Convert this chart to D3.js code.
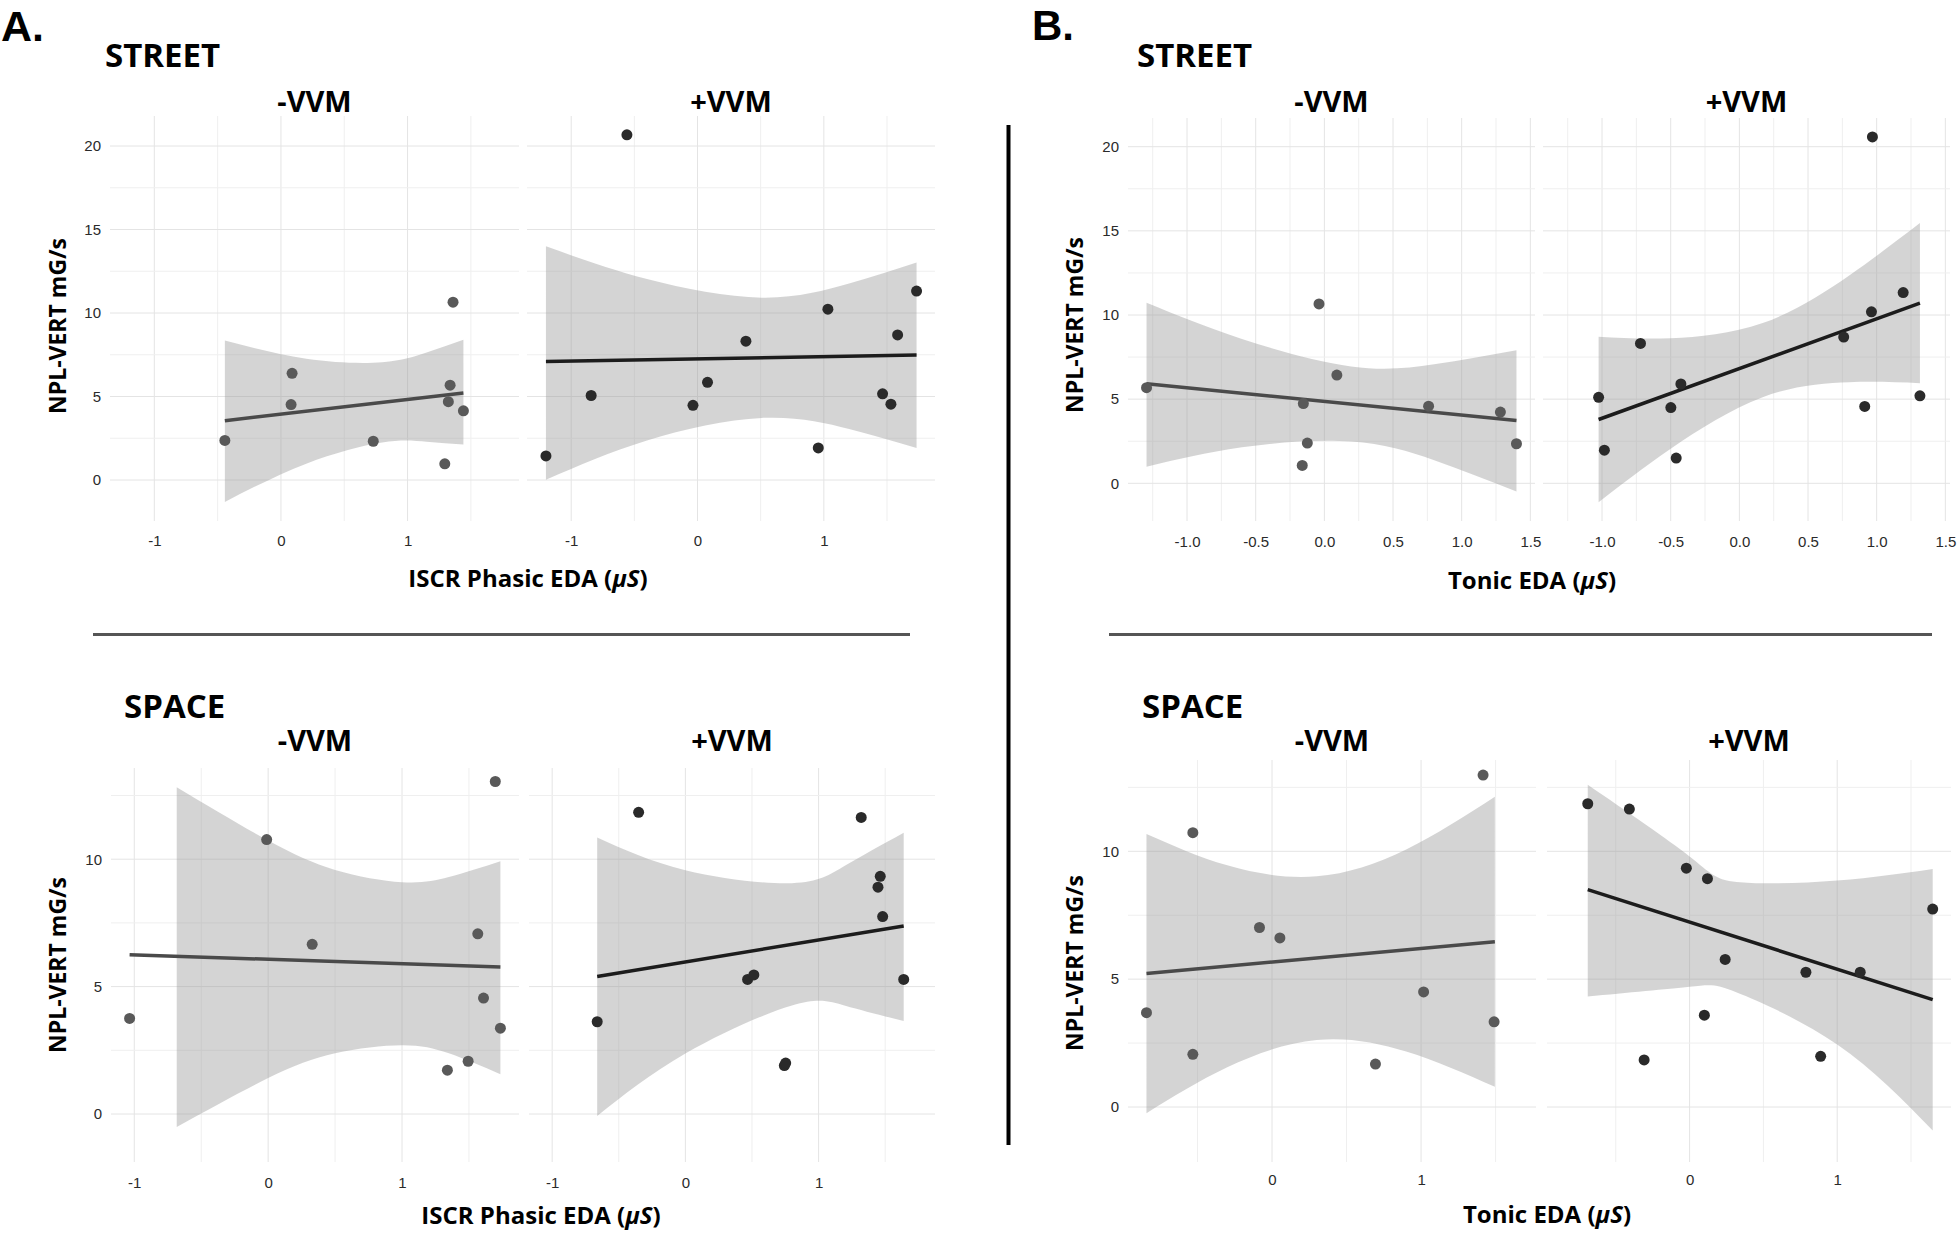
<!DOCTYPE html>
<html>
<head>
<meta charset="utf-8">
<script src="https://cdn.jsdelivr.net/npm/d3@7"></script>
<style>
  body { margin: 0; background: #fff; }
  .tick text { font-family: "Liberation Sans", Arial, sans-serif; font-size: 15px; fill: #2a2a2a; }
  .ttl { font-family: "Open Sans", sans-serif; font-weight: 700; fill: #000; }
  .lead { font-family: "Liberation Sans", Arial, sans-serif; font-weight: 700; fill: #000; }
</style>
</head>
<body>
<script>
/*--------------------------------------------------------------------------
+++ Data (x = EDA, y = NPL-VERT mG/s)
--------------------------------------------------------------------------*/
// A. street, -VVM
var aStreetNegX = [-0.443, 0.088, 0.08, 0.729, 1.359, 1.336, 1.322, 1.441, 1.294];
var aStreetNegY = [2.37, 6.39, 4.52, 2.32, 10.65, 5.68, 4.69, 4.14, 0.97];
var aStreetNegFitX = [-0.443, 1.441];
var aStreetNegFitY = [3.55, 5.21];
var aStreetNegBandX = [-0.443, 0.2, 0.8, 1.15, 1.441];
var aStreetNegBandLo = [-1.31, 0.98, 2.25, 2.29, 2.13];
var aStreetNegBandHi = [8.35, 7.26, 7.05, 7.63, 8.4];

// A. street, +VVM
var aStreetPosX = [-0.559, -1.2, -0.842, -0.036, 0.079, 0.383, 0.956, 1.032, 1.465, 1.531, 1.584, 1.734];
var aStreetPosY = [20.67, 1.44, 5.06, 4.47, 5.85, 8.31, 1.92, 10.23, 5.16, 4.54, 8.69, 11.31];
var aStreetPosFitX = [-1.2, 1.734];
var aStreetPosFitY = [7.1, 7.48];
var aStreetPosBandX = [-1.2, -0.4, 0.51, 1.2, 1.734];
var aStreetPosBandLo = [0.02, 2.37, 3.72, 3.06, 1.92];
var aStreetPosBandHi = [13.99, 12.03, 10.92, 11.76, 13.02];

// B. street, -VVM
var bStreetNegX = [-1.295, -0.039, 0.091, -0.153, -0.124, -0.161, 0.759, 1.282, 1.399];
var bStreetNegY = [5.68, 10.66, 6.43, 4.74, 2.39, 1.06, 4.58, 4.23, 2.35];
var bStreetNegFitX = [-1.295, 1.399];
var bStreetNegFitY = [5.92, 3.73];
var bStreetNegBandX = [-1.295, -0.6, 0.195, 0.8, 1.399];
var bStreetNegBandLo = [0.99, 2.14, 2.48, 1.37, -0.49];
var bStreetNegBandHi = [10.73, 8.58, 6.94, 7.07, 7.91];

// B. street, +VVM
var bStreetPosX = [0.969, -0.72, -1.025, -0.983, -0.426, -0.499, -0.46, 0.76, 0.962, 1.193, 0.913, 1.315];
var bStreetPosY = [20.58, 8.31, 5.11, 1.97, 5.9, 4.5, 1.5, 8.69, 10.19, 11.33, 4.57, 5.2];
var bStreetPosFitX = [-1.025, 1.315];
var bStreetPosFitY = [3.79, 10.7];
var bStreetPosBandX = [-1.025, -0.5, 0.17, 0.8, 1.315];
var bStreetPosBandLo = [-1.12, 2.06, 5.12, 6.01, 5.95];
var bStreetPosBandHi = [8.71, 8.62, 9.52, 12.35, 15.46];

// A. space, -VVM
var aSpaceNegX = [-1.035, -0.011, 0.329, 1.566, 1.609, 1.735, 1.494, 1.339, 1.697];
var aSpaceNegY = [3.75, 10.77, 6.66, 7.07, 4.55, 3.37, 2.07, 1.72, 13.05];
var aSpaceNegFitX = [-1.035, 1.735];
var aSpaceNegFitY = [6.25, 5.77];
var aSpaceNegBandX = [-0.683, 0, 0.5, 1.0, 1.35, 1.735];
var aSpaceNegBandLo = [-0.51, 1.41, 2.38, 2.7, 2.38, 1.56];
var aSpaceNegBandHi = [12.82, 10.73, 9.58, 9.1, 9.3, 9.92];

// A. space, +VVM
var aSpacePosX = [-0.351, -0.662, 0.467, 0.514, 0.743, 0.753, 1.32, 1.463, 1.446, 1.481, 1.639];
var aSpacePosY = [11.84, 3.62, 5.28, 5.46, 1.9, 2.0, 11.64, 9.33, 8.9, 7.75, 5.28];
var aSpacePosFitX = [-0.662, 1.639];
var aSpacePosFitY = [5.4, 7.38];
var aSpacePosBandX = [-0.662, 0, 0.8, 1.2, 1.639];
var aSpacePosBandLo = [-0.08, 2.37, 4.26, 4.25, 3.65];
var aSpacePosBandHi = [10.85, 9.57, 9.06, 9.75, 11.04];

// B. space, -VVM
var bSpaceNegX = [-0.842, -0.531, -0.531, -0.084, 0.053, 0.694, 1.017, 1.49, 1.416];
var bSpaceNegY = [3.69, 10.73, 2.06, 7.02, 6.61, 1.68, 4.5, 3.33, 12.98];
var bSpaceNegFitX = [-0.842, 1.495];
var bSpaceNegFitY = [5.22, 6.46];
var bSpaceNegBandX = [-0.842, -0.3, 0.3, 0.9, 1.495];
var bSpaceNegBandLo = [-0.24, 1.55, 2.62, 2.17, 0.79];
var bSpaceNegBandHi = [10.68, 9.45, 9.02, 10.07, 12.13];

// B. space, +VVM
var bSpacePosX = [-0.69, -0.408, -0.022, 0.121, 1.647, 0.241, 0.788, 1.156, 0.1, -0.308, 0.888];
var bSpacePosY = [11.86, 11.65, 9.34, 8.93, 7.74, 5.77, 5.27, 5.27, 3.59, 1.84, 1.98];
var bSpacePosFitX = [-0.69, 1.647];
var bSpacePosFitY = [8.5, 4.2];
var bSpacePosBandX = [-0.69, 0, 0.32, 1.0, 1.647];
var bSpacePosBandLo = [4.32, 4.7, 4.48, 2.44, -0.92];
var bSpacePosBandHi = [12.6, 9.8, 8.8, 8.86, 9.31];

// tick labels
var xTicksPhasic = [-1, 0, 1];
var xTicksTonicStreet = [-1.0, -0.5, 0.0, 0.5, 1.0, 1.5];
var xTicksTonicSpace = [0, 1];
var yTicksStreet = [0, 5, 10, 15, 20];
var yTicksSpace = [0, 5, 10];
var facetLabels = ["-VVM", "+VVM"];

/*--------------------------------------------------------------------------
+++ Layout
--------------------------------------------------------------------------*/
var svg = d3.select("body").append("svg")
    .attr("width", 1960)
    .attr("height", 1233);

// y0 = pixel of value 0, unit = pixels per unit
var rowAStreet = { y0: 480, unit: 16.7, top: 116, bottom: 521, ticks: yTicksStreet, tickY: 541, facetY: 112 };
var rowBStreet = { y0: 483.3, unit: 16.83, top: 118, bottom: 521, ticks: yTicksStreet, tickY: 542, facetY: 112 };
var rowASpace = { y0: 1114, unit: 25.48, top: 768, bottom: 1162, ticks: yTicksSpace, tickY: 1183, facetY: 751 };
var rowBSpace = { y0: 1107, unit: 25.57, top: 760, bottom: 1162, ticks: yTicksSpace, tickY: 1180, facetY: 751 };

var fmtInt = d => String(d);
var fmtOne = d => d.toFixed(1);

function zip2(a, b) { return a.map((v, i) => ({ x: v, y: b[i] })); }
function zip3(a, lo, hi) { return a.map((v, i) => ({ x: v, lo: lo[i], hi: hi[i] })); }

var panels = [
    { row: rowAStreet, left: 110, right: 519, xDomain: [-1.35, 1.88], xTicks: xTicksPhasic, fmt: fmtInt, pos: false, yAxis: true,
      pts: zip2(aStreetNegX, aStreetNegY), fit: zip2(aStreetNegFitX, aStreetNegFitY), band: zip3(aStreetNegBandX, aStreetNegBandLo, aStreetNegBandHi) },
    { row: rowAStreet, left: 527, right: 935, xDomain: [-1.35, 1.88], xTicks: xTicksPhasic, fmt: fmtInt, pos: true, yAxis: false,
      pts: zip2(aStreetPosX, aStreetPosY), fit: zip2(aStreetPosFitX, aStreetPosFitY), band: zip3(aStreetPosBandX, aStreetPosBandLo, aStreetPosBandHi) },
    { row: rowBStreet, left: 1128, right: 1535, xDomain: [-1.43, 1.534], xTicks: xTicksTonicStreet, fmt: fmtOne, pos: false, yAxis: true,
      pts: zip2(bStreetNegX, bStreetNegY), fit: zip2(bStreetNegFitX, bStreetNegFitY), band: zip3(bStreetNegBandX, bStreetNegBandLo, bStreetNegBandHi) },
    { row: rowBStreet, left: 1543, right: 1950, xDomain: [-1.43, 1.534], xTicks: xTicksTonicStreet, fmt: fmtOne, pos: true, yAxis: false,
      pts: zip2(bStreetPosX, bStreetPosY), fit: zip2(bStreetPosFitX, bStreetPosFitY), band: zip3(bStreetPosBandX, bStreetPosBandLo, bStreetPosBandHi) },
    { row: rowASpace, left: 111, right: 519, xDomain: [-1.174, 1.874], xTicks: xTicksPhasic, fmt: fmtInt, pos: false, yAxis: true,
      pts: zip2(aSpaceNegX, aSpaceNegY), fit: zip2(aSpaceNegFitX, aSpaceNegFitY), band: zip3(aSpaceNegBandX, aSpaceNegBandLo, aSpaceNegBandHi) },
    { row: rowASpace, left: 529, right: 935, xDomain: [-1.174, 1.874], xTicks: xTicksPhasic, fmt: fmtInt, pos: true, yAxis: false,
      pts: zip2(aSpacePosX, aSpacePosY), fit: zip2(aSpacePosFitX, aSpacePosFitY), band: zip3(aSpacePosBandX, aSpacePosBandLo, aSpacePosBandHi) },
    { row: rowBSpace, left: 1128, right: 1536, xDomain: [-0.966, 1.771], xTicks: xTicksTonicSpace, fmt: fmtInt, pos: false, yAxis: true,
      pts: zip2(bSpaceNegX, bSpaceNegY), fit: zip2(bSpaceNegFitX, bSpaceNegFitY), band: zip3(bSpaceNegBandX, bSpaceNegBandLo, bSpaceNegBandHi) },
    { row: rowBSpace, left: 1547, right: 1951, xDomain: [-0.966, 1.771], xTicks: xTicksTonicSpace, fmt: fmtInt, pos: true, yAxis: false,
      pts: zip2(bSpacePosX, bSpacePosY), fit: zip2(bSpacePosFitX, bSpacePosFitY), band: zip3(bSpacePosBandX, bSpacePosBandLo, bSpacePosBandHi) }
];

// minor breaks halfway between the major ones, one extra on each side
function minorsOf(ticks, domain) {
    var step = ticks[1] - ticks[0];
    var out = [ticks[0] - step / 2].concat(ticks.map(t => t + step / 2));
    return out.filter(v => v > domain[0] && v < domain[1]);
}

/*--------------------------------------------------------------------------
+++ Draw the panels
--------------------------------------------------------------------------*/
panels.forEach(function (p) {
    var row = p.row;
    var x = d3.scaleLinear().domain(p.xDomain).range([p.left, p.right]);
    var y = d3.scaleLinear()
        .domain([(row.y0 - row.bottom) / row.unit, (row.y0 - row.top) / row.unit])
        .range([row.bottom, row.top]);

    var g = svg.append("g");

    // grid
    var grid = g.append("g").attr("stroke-width", 1);
    minorsOf(p.xTicks, x.domain()).concat(p.xTicks).forEach(function (v) {
        grid.append("line")
            .attr("x1", x(v)).attr("x2", x(v))
            .attr("y1", row.top).attr("y2", row.bottom)
            .attr("stroke", p.xTicks.indexOf(v) >= 0 ? "#e4e4e4" : "#efefef");
    });
    minorsOf(row.ticks, y.domain()).concat(row.ticks).forEach(function (v) {
        grid.append("line")
            .attr("x1", p.left).attr("x2", p.right)
            .attr("y1", y(v)).attr("y2", y(v))
            .attr("stroke", row.ticks.indexOf(v) >= 0 ? "#e4e4e4" : "#efefef");
    });

    // confidence band
    var area = d3.area()
        .x(d => x(d.x))
        .y0(d => y(d.lo))
        .y1(d => y(d.hi))
        .curve(d3.curveNatural);

    g.append("path")
        .datum(p.band)
        .attr("d", area)
        .attr("fill", "#999999")
        .attr("fill-opacity", 0.42);

    // fitted line
    var line = d3.line().x(d => x(d.x)).y(d => y(d.y));
    g.append("path")
        .datum(p.fit)
        .attr("d", line)
        .attr("fill", "none")
        .attr("stroke", p.pos ? "#1c1c1c" : "#4a4a4a")
        .attr("stroke-width", 3.5);

    // points
    g.selectAll("circle")
        .data(p.pts)
        .enter()
        .append("circle")
        .attr("cx", d => x(d.x))
        .attr("cy", d => y(d.y))
        .attr("r", 5.5)
        .attr("fill", p.pos ? "#2a2a2a" : "#595959");

    // axes
    var xAxis = g.append("g")
        .attr("transform", `translate(0, ${row.tickY})`)
        .call(d3.axisBottom(x).tickValues(p.xTicks).tickFormat(p.fmt).tickSize(0).tickPadding(0));
    xAxis.select(".domain").remove();
    xAxis.selectAll("text").attr("y", 0).attr("dy", "0.35em");

    if (p.yAxis) {
        var yAxis = g.append("g")
            .attr("transform", `translate(${p.left - 9}, 0)`)
            .call(d3.axisLeft(y).tickValues(row.ticks).tickFormat(fmtInt).tickSize(0).tickPadding(0));
        yAxis.select(".domain").remove();
    }

    // facet label
    g.append("text")
        .attr("class", "ttl")
        .attr("x", (p.left + p.right) / 2)
        .attr("y", row.facetY)
        .attr("text-anchor", "middle")
        .style("font-size", "29px")
        .text(p.pos ? facetLabels[1] : facetLabels[0]);
});

/*--------------------------------------------------------------------------
+++ Titles, axis labels and dividers
--------------------------------------------------------------------------*/
function bigText(txt, x, y, size, cls) {
    svg.append("text")
        .attr("class", cls || "ttl")
        .attr("x", x).attr("y", y)
        .style("font-size", size + "px")
        .text(txt);
}
bigText("A.", 1, 41, 43, "lead");
bigText("B.", 1032, 40, 42, "lead");
bigText("STREET", 105, 67, 33);
bigText("STREET", 1137, 67, 33);
bigText("SPACE", 124, 718, 33);
bigText("SPACE", 1142, 718, 33);

function yTitle(x, y) {
    svg.append("text")
        .attr("class", "ttl")
        .attr("transform", `translate(${x}, ${y}) rotate(-90)`)
        .attr("text-anchor", "middle")
        .attr("dy", "0.35em")
        .style("font-size", "23px")
        .text("NPL-VERT mG/s");
}
yTitle(58, 326);
yTitle(58, 965);
yTitle(1075, 325);
yTitle(1075, 963);

function xTitle(label, x, y) {
    var t = svg.append("text")
        .attr("class", "ttl")
        .attr("x", x).attr("y", y)
        .attr("text-anchor", "middle")
        .attr("dy", "0.35em")
        .style("font-size", "24px");
    t.append("tspan").text(label + " (");
    t.append("tspan").style("font-style", "italic").text("\u03bc");
    t.append("tspan").style("font-style", "italic").text("S");
    t.append("tspan").text(")");
}
xTitle("ISCR Phasic EDA", 528, 579);
xTitle("ISCR Phasic EDA", 541, 1216);
xTitle("Tonic EDA", 1532, 581);
xTitle("Tonic EDA", 1547, 1215);

// dividers
svg.append("line")
    .attr("x1", 93).attr("x2", 910).attr("y1", 634.5).attr("y2", 634.5)
    .attr("stroke", "#555").attr("stroke-width", 3);
svg.append("line")
    .attr("x1", 1109).attr("x2", 1932).attr("y1", 634.5).attr("y2", 634.5)
    .attr("stroke", "#555").attr("stroke-width", 3);
svg.append("line")
    .attr("x1", 1008.5).attr("x2", 1008.5).attr("y1", 125).attr("y2", 1145)
    .attr("stroke", "#000").attr("stroke-width", 4);
</script>
</body>
</html>
